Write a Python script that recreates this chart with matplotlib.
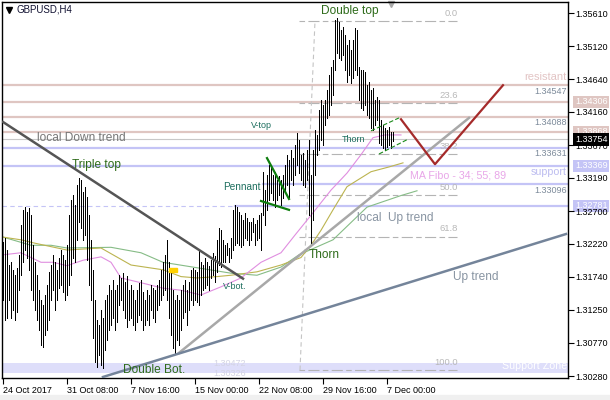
import numpy as np
import matplotlib.pyplot as plt
import matplotlib.transforms as mtransforms
from matplotlib.patches import Rectangle

plt.rcParams['font.family'] = ['Liberation Sans', 'DejaVu Sans']

# GBPUSD H4 bars (high / low), oldest first
highs = [1.3225, 1.3231, 1.3213, 1.3191, 1.3195, 1.3184, 1.3176, 1.3187, 1.3206, 1.3250,
         1.3272, 1.3276, 1.3269, 1.3275, 1.3264, 1.3220, 1.3195, 1.3176, 1.3154, 1.3140,
         1.3132, 1.3147, 1.3162, 1.3181, 1.3191, 1.3206, 1.3195, 1.3184, 1.3201, 1.3213,
         1.3206, 1.3198, 1.3220, 1.3264, 1.3286, 1.3294, 1.3279, 1.3308, 1.3319, 1.3316,
         1.3298, 1.3306, 1.3291, 1.3264, 1.3228, 1.3184, 1.3140, 1.3110, 1.3103, 1.3125,
         1.3113, 1.3140, 1.3147, 1.3162, 1.3154, 1.3169, 1.3154, 1.3162, 1.3176, 1.3172,
         1.3179, 1.3166, 1.3175, 1.3154, 1.3162, 1.3154, 1.3140, 1.3154, 1.3165, 1.3169,
         1.3151, 1.3140, 1.3154, 1.3147, 1.3162, 1.3157, 1.3154, 1.3162, 1.3169, 1.3184,
         1.3195, 1.3206, 1.3228, 1.3195, 1.3184, 1.3154, 1.3140, 1.3147, 1.3140, 1.3154,
         1.3162, 1.3169, 1.3154, 1.3166, 1.3184, 1.3187, 1.3184, 1.3181, 1.3213, 1.3195,
         1.3191, 1.3201, 1.3195, 1.3190, 1.3198, 1.3209, 1.3204, 1.3228, 1.3245, 1.3242,
         1.3228, 1.3220, 1.3223, 1.3216, 1.3231, 1.3272, 1.3279, 1.3276, 1.3269, 1.3264,
         1.3257, 1.3267, 1.3260, 1.3254, 1.3254, 1.3260, 1.3251, 1.3257, 1.3264, 1.3267,
         1.3328, 1.3301, 1.3323, 1.3338, 1.3333, 1.3323, 1.3328, 1.3316, 1.3322, 1.3316,
         1.3323, 1.3338, 1.3353, 1.3345, 1.3360, 1.3348, 1.3367, 1.3385, 1.3375, 1.3353,
         1.3355, 1.3345, 1.3360, 1.3375, 1.3323, 1.3360, 1.3389, 1.3382, 1.3419, 1.3433,
         1.3426, 1.3433, 1.3448, 1.3470, 1.3482, 1.3492, 1.3551, 1.3554, 1.3548, 1.3536,
         1.3540, 1.3529, 1.3514, 1.3521, 1.3507, 1.3521, 1.3539, 1.3536, 1.3482, 1.3477,
         1.3477, 1.3474, 1.3455, 1.3460, 1.3448, 1.3451, 1.3433, 1.3438, 1.3433, 1.3404,
         1.3397, 1.3392, 1.3389, 1.3394, 1.3386, 1.3386]
lows = [1.3140, 1.3110, 1.3113, 1.3140, 1.3113, 1.3125, 1.3110, 1.3122, 1.3154, 1.3176,
        1.3195, 1.3213, 1.3201, 1.3184, 1.3154, 1.3140, 1.3125, 1.3110, 1.3096, 1.3074,
        1.3071, 1.3088, 1.3096, 1.3110, 1.3140, 1.3154, 1.3125, 1.3140, 1.3157, 1.3162,
        1.3151, 1.3140, 1.3147, 1.3162, 1.3176, 1.3201, 1.3195, 1.3228, 1.3254, 1.3245,
        1.3228, 1.3235, 1.3198, 1.3162, 1.3140, 1.3084, 1.3049, 1.3041, 1.3059, 1.3044,
        1.3040, 1.3066, 1.3081, 1.3096, 1.3103, 1.3113, 1.3096, 1.3107, 1.3132, 1.3140,
        1.3125, 1.3113, 1.3100, 1.3110, 1.3113, 1.3103, 1.3096, 1.3107, 1.3118, 1.3110,
        1.3096, 1.3103, 1.3110, 1.3103, 1.3125, 1.3113, 1.3107, 1.3125, 1.3132, 1.3140,
        1.3147, 1.3154, 1.3140, 1.3113, 1.3088, 1.3069, 1.3062, 1.3081, 1.3074, 1.3096,
        1.3113, 1.3122, 1.3103, 1.3125, 1.3140, 1.3132, 1.3140, 1.3137, 1.3132, 1.3147,
        1.3154, 1.3157, 1.3162, 1.3154, 1.3172, 1.3176, 1.3166, 1.3181, 1.3191, 1.3188,
        1.3195, 1.3195, 1.3206, 1.3195, 1.3201, 1.3213, 1.3220, 1.3223, 1.3220, 1.3217,
        1.3220, 1.3231, 1.3228, 1.3220, 1.3228, 1.3239, 1.3220, 1.3228, 1.3231, 1.3213,
        1.3264, 1.3250, 1.3272, 1.3286, 1.3297, 1.3286, 1.3276, 1.3286, 1.3294, 1.3279,
        1.3289, 1.3301, 1.3308, 1.3291, 1.3316, 1.3308, 1.3323, 1.3338, 1.3326, 1.3316,
        1.3308, 1.3306, 1.3316, 1.3264, 1.3223, 1.3257, 1.3323, 1.3353, 1.3360, 1.3375,
        1.3367, 1.3397, 1.3407, 1.3411, 1.3426, 1.3441, 1.3477, 1.3502, 1.3495, 1.3492,
        1.3499, 1.3477, 1.3460, 1.3470, 1.3458, 1.3466, 1.3477, 1.3470, 1.3433, 1.3422,
        1.3419, 1.3426, 1.3411, 1.3407, 1.3392, 1.3389, 1.3397, 1.3404, 1.3370, 1.3367,
        1.3363, 1.3360, 1.3364, 1.3367, 1.3363, 1.3373]

# moving averages (MA Fibo 34 / 55 / 89), read at a few bars
ma34_bar = [0, 9, 19, 25, 32, 40, 49, 54, 59, 69, 80, 89, 99, 109, 119, 129, 139, 146, 154, 164, 172, 179, 185, 191, 199]
ma34 = [1.3206, 1.3209, 1.3195, 1.3195, 1.3190, 1.3198, 1.3203, 1.3195, 1.3172, 1.3165, 1.3157, 1.3154, 1.3147,
        1.3159, 1.3172, 1.3195, 1.3209, 1.3235, 1.3264, 1.3301, 1.3326, 1.3353, 1.3378, 1.3382, 1.3382]
ma55_bar = [0, 9, 16, 32, 49, 64, 80, 89, 97, 107, 114, 127, 139, 149, 154, 159, 165, 172, 184, 193, 200]
ma55 = [1.3232, 1.3228, 1.3223, 1.3213, 1.3216, 1.3191, 1.3184, 1.3174, 1.3172, 1.3174, 1.3176, 1.3181, 1.3191,
        1.3202, 1.3220, 1.3242, 1.3272, 1.3306, 1.3328, 1.3335, 1.3341]
ma89_bar = [0, 14, 24, 32, 54, 69, 80, 97, 114, 127, 139, 148, 165, 182, 199, 207]
ma89 = [1.3232, 1.3220, 1.3220, 1.3216, 1.3217, 1.3209, 1.3195, 1.3187, 1.3179, 1.3176, 1.3188, 1.3206, 1.3228,
        1.3276, 1.3293, 1.3300]

x_ticks = [0, 32, 64, 96, 128, 160, 192]
x_labels = ['24 Oct 2017', '31 Oct 08:00', '7 Nov 16:00', '15 Nov 00:00', '22 Nov 08:00', '29 Nov 16:00', '7 Dec 00:00']
y_ticks = [1.35610, 1.35120, 1.34640, 1.34160, 1.33670, 1.33190, 1.32700, 1.32220, 1.31740, 1.31250, 1.30770, 1.30280]

resist_lines = [1.34547, 1.34306, 1.34088, 1.33868]
support_lines = [1.33631, 1.33369]
support_from = [(130, 1.33096), (116, 1.32781)]
bid = 1.33754
zone = (1.30326, 1.30472)

fib_hi, fib_lo = 1.35493, 1.30369
fib_levels = [0.0, 23.6, 38.2, 50.0, 61.8, 100.0]

down_trend = ([0, 120], [1.3401, 1.3171])
local_up = ([88, 233], [1.3062, 1.3407])
up_trend = ([50, 281.5], [1.30266, 1.32365])
forecast = ([199, 216, 250], [1.3405, 1.3339, 1.3455])
pennant_a = ([132, 143], [1.3348, 1.3288])
pennant_b = ([129, 143], [1.3285, 1.3272])
thorn_a = ([184, 198], [1.3388, 1.3407])
thorn_b = ([188, 202], [1.3354, 1.3375])

fig = plt.figure(figsize=(6.1, 4.0), dpi=100)
fig.patches.append(Rectangle((0, 0), 1, 5 / 400, transform=fig.transFigure, color='#f0f0f0', zorder=0))
ax = fig.add_axes([2 / 610, 22 / 400, 566 / 610, 376 / 400])
ax.set_xlim(-0.5, 282.5)
ax.set_ylim(1.30251, 1.35772)
tr = mtransforms.blended_transform_factory(ax.transAxes, ax.transData)

# zones and horizontal levels
ax.axhspan(zone[0], zone[1], color='#dedefa', lw=0, zorder=0)
for p in resist_lines:
    ax.axhline(p, color='#dfc6c2', lw=1.6, zorder=1)
for p in support_lines:
    ax.axhline(p, color='#c4c4f6', lw=1.6, zorder=1)
for start, p in support_from:
    ax.plot([start, 282.5], [p, p], color='#c4c4f6', lw=1.6, zorder=1)
ax.plot([-0.5, 116], [1.32781, 1.32781], color='#c4c4f6', lw=0.8, ls=(0, (4, 3)), zorder=1)
ax.axhline(bid, color='#c8c8c8', lw=0.8, zorder=1)

# fibonacci retracement
fib_prices = [fib_hi - (fib_hi - fib_lo) * lv / 100 for lv in fib_levels]
for lv, p in zip(fib_levels, fib_prices):
    ax.plot([148, 227], [p, p], color='#b4b4b4', lw=0.8, ls=(0, (5, 3, 10, 3)), zorder=1)
    ax.text(227.5, p + 0.0005, '%.1f' % lv, ha='right', va='bottom', fontsize=6.8, color='#b8b8b8')
ax.plot([148.5, 156], [fib_lo, fib_hi], color='#c4c4c4', lw=0.8, ls=(0, (4, 3)), zorder=1)

# bars
idx = np.arange(len(highs))
ax.vlines(idx, lows, highs, color='black', lw=0.72, zorder=3, antialiased=False)

# moving averages
ax.plot(ma89_bar, ma89, color='#86bc86', lw=0.8, zorder=2)
ax.plot(ma55_bar, ma55, color='#bcb450', lw=0.8, zorder=2)
ax.plot(ma34_bar, ma34, color='#e08ee0', lw=0.8, zorder=2)

# trend lines and patterns
ax.plot(*down_trend, color='#555555', lw=1.8, zorder=4)
ax.plot(*local_up, color='#a8a8a8', lw=1.8, zorder=4)
ax.plot(*up_trend, color='#74849a', lw=1.8, zorder=4)
ax.plot(*forecast, color='#a52a2a', lw=1.6, zorder=5)
ax.plot(*pennant_a, color='#0e7e0e', lw=1.6, zorder=5)
ax.plot(*pennant_b, color='#0e7e0e', lw=1.6, zorder=5)
ax.plot(*thorn_a, color='#1a8a1a', lw=0.8, ls=(0, (4, 2)), zorder=5)
ax.plot(*thorn_b, color='#1a8a1a', lw=0.8, ls=(0, (4, 2)), zorder=5)
ax.add_patch(Rectangle((83, 1.3181), 4, 0.0006, color='#ffd000', zorder=5))

# pattern labels
big = dict(fontsize=8.6, color='#2e6b1a', ha='center', va='center', zorder=6)
small = dict(fontsize=6.5, color='#1d6e5e', ha='center', va='center', zorder=6)
ax.text(173.5, 1.3564, 'Double top', **big)
ax.text(46.5, 1.3338, 'Triple top', **big)
ax.text(75.5, 1.3037, 'Double Bot.', **big)
ax.text(160.5, 1.3206, 'Thorn', **big)
ax.text(129, 1.3396, 'V-top', **small)
ax.text(175.2, 1.3375, 'Thorn', **small)
ax.text(116, 1.3159, 'V-bot.', **small)
ax.text(119.5, 1.3306, 'Pennant', fontsize=7.2, color='#1d6e5e', ha='center', va='center', zorder=6)

ax.text(39, 1.3377, 'local Down trend', fontsize=8.6, color='#767676', ha='center', va='center', zorder=6)
ax.text(196, 1.3260, 'local  Up trend', fontsize=8.6, color='#8894a2', ha='center', va='center', zorder=6)
ax.text(236.5, 1.3174, 'Up trend', fontsize=8.6, color='#8894a2', ha='center', va='center', zorder=6)
ax.text(203.5, 1.3322, 'MA Fibo - 34; 55; 89', fontsize=7.7, color='#e8a6e8', ha='left', va='center', zorder=6)
ax.text(0.998, 1.3467, 'resistant', transform=tr, fontsize=8, color='#e2c4c4', ha='right', va='center')
ax.text(0.998, 1.3328, 'support', transform=tr, fontsize=7.7, color='#bcbcf0', ha='right', va='center')
ax.text(0.998, 1.3043, 'Support Zone', transform=tr, fontsize=7.7, color='white', ha='right', va='center')

for p in resist_lines[::2] + support_lines[:1] + [support_from[0][1]]:
    ax.text(0.998, p - 0.00085, '%.5f' % p, transform=tr, fontsize=6.5, color='#7c8a9a', ha='right', va='center')
ax.text(113.5, 1.3047, '%.5f' % zone[1], fontsize=6.5, color='#d4d4e4', ha='center', va='center')
ax.text(113.5, 1.3032, '%.5f' % zone[0], fontsize=6.5, color='#d4d4e4', ha='center', va='center')

# price boxes on the right scale
boxes = [(resist_lines[1], '#dfc6c2'), (resist_lines[3], '#dfc6c2'), (bid, 'black'),
         (support_lines[1], '#c4c4f6'), (support_from[1][1], '#c4c4f6')]
for p, c in boxes:
    ax.text(1.0125, p, '%.5f' % p, transform=tr, fontsize=6.5, color='white', ha='left', va='center',
            bbox=dict(fc=c, ec='none', pad=1.2), clip_on=False, zorder=1)

# axes
ax.set_xticks(x_ticks)
ax.set_xticklabels(x_labels, ha='left', fontsize=6.5)
ax.set_yticks(y_ticks)
ax.set_yticklabels(['%.5f' % v for v in y_ticks], fontsize=6.5)
ax.yaxis.tick_right()
ax.tick_params(axis='both', length=4, width=0.8, pad=1.5, colors='black')
for s in ax.spines.values():
    s.set_linewidth(1.0)

ax.text(0.0265, 0.979, 'GBPUSD,H4', transform=ax.transAxes, fontsize=7, color='#101030', va='center')
ax.plot([0.0115], [0.98], marker='v', ms=4, color='black', transform=ax.transAxes, clip_on=False)
ax.plot([0.687], [0.994], marker='v', ms=5, color='#a8a8a8', transform=ax.transAxes, clip_on=False)

fig.savefig('out.png', dpi=100)
